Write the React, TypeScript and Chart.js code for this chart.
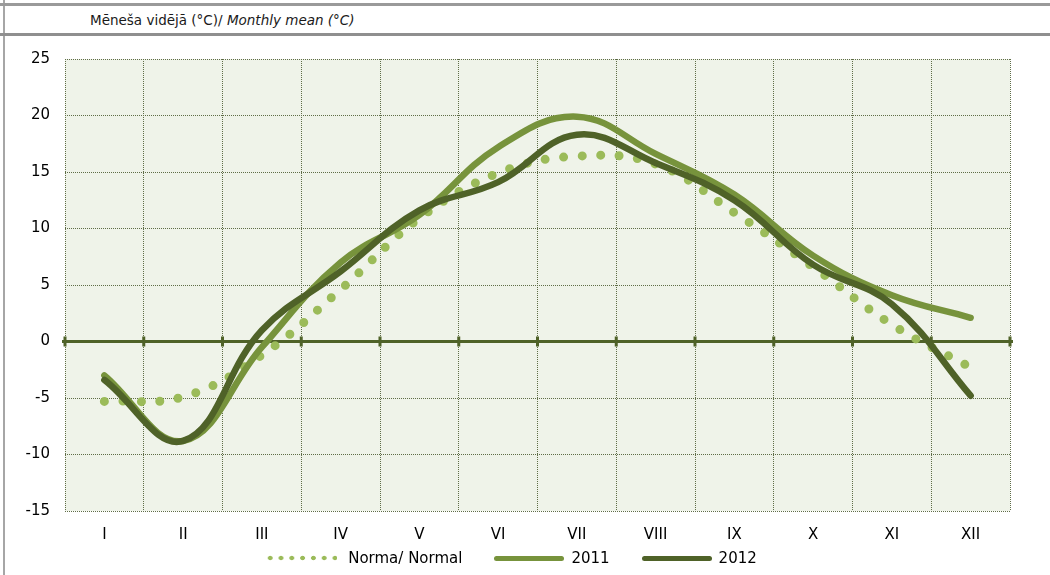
import React, { useEffect, useRef } from 'react';
import { Chart, registerables } from 'chart.js';

Chart.register(...registerables);

const categories = ['I', 'II', 'III', 'IV', 'V', 'VI', 'VII', 'VIII', 'IX', 'X', 'XI', 'XII'];
const normaValues = [-5.3, -4.9, -1.2, 4.6, 10.9, 14.9, 16.4, 15.7, 11.4, 6.6, 1.5, -2.3];
const values2011 = [-3.0, -8.8, -0.5, 7.0, 11.2, 17.2, 19.9, 16.6, 13.0, 7.6, 4.1, 2.1];
const values2012 = [-3.4, -8.8, 1.0, 6.2, 11.6, 14.1, 18.3, 15.8, 12.5, 6.8, 3.3, -4.8];
const seriesNames = ['Norma/ Normal', '2011', '2012'];
const yMin = -15;
const yMax = 25;
const yStep = 5;
const headerLatvian = 'Mēneša vidējā (°C)/ ';
const headerEnglish = 'Monthly mean (°C)';

const COLOR_NORMA = '#9bbb59';
const COLOR_2011 = '#77933c';
const COLOR_2012 = '#4f6228';
const COLOR_ZERO = '#4f6228';
const COLOR_GRID = '#5f6d47';
const COLOR_BG = '#eff3e9';
const FONT = 'DejaVu Sans';

const plotBackground = {
  id: 'plotBackground',
  beforeDraw(chart: any) {
    const { ctx, chartArea } = chart;
    if (!chartArea) return;
    ctx.save();
    ctx.fillStyle = COLOR_BG;
    ctx.fillRect(chartArea.left, chartArea.top, chartArea.right - chartArea.left, chartArea.bottom - chartArea.top);
    ctx.restore();
  },
};

const zeroAxis = {
  id: 'zeroAxis',
  beforeDatasetsDraw(chart: any) {
    const { ctx, chartArea, scales } = chart;
    const x = scales.x;
    const y = scales.y;
    const y0 = y.getPixelForValue(0);
    ctx.save();
    ctx.strokeStyle = COLOR_ZERO;
    ctx.lineWidth = 3;
    ctx.beginPath();
    ctx.moveTo(chartArea.left - 3, y0);
    ctx.lineTo(chartArea.right + 3, y0);
    ctx.stroke();
    ctx.fillStyle = COLOR_ZERO;
    for (let i = 0; i <= categories.length; i++) {
      const px = x.getPixelForValue(i - 0.5);
      ctx.fillRect(px - 1.5, y0 - 5, 3, 10);
    }
    ctx.restore();
  },
};

function LegendSample({ kind, color }: { kind: 'dots' | 'line'; color: string }) {
  if (kind === 'dots') {
    return (
      <div
        style={{
          width: 70,
          height: 6,
          backgroundImage: `radial-gradient(circle, ${color} 2px, rgba(0,0,0,0) 2.6px)`,
          backgroundSize: '10.8px 6px',
          backgroundRepeat: 'repeat-x',
          backgroundPosition: '-2.2px 0',
        }}
      />
    );
  }
  return <div style={{ width: 70, height: 5, borderRadius: 2.5, background: color }} />;
}

export default function App() {
  const canvasRef = useRef<HTMLCanvasElement | null>(null);

  useEffect(() => {
    document.body.style.margin = '0';
    document.body.style.overflow = 'hidden';
    const canvas = canvasRef.current;
    if (!canvas) return;
    const chart = new Chart(canvas, {
      type: 'line',
      data: {
        labels: categories,
        datasets: [
          {
            label: seriesNames[0],
            data: normaValues,
            borderColor: COLOR_NORMA,
            borderWidth: 9,
            borderDash: [0, 18.5],
            borderCapStyle: 'round',
            pointRadius: 0,
            pointHoverRadius: 0,
            tension: 0.4,
            fill: false,
            order: 3,
          },
          {
            label: seriesNames[1],
            data: values2011,
            borderColor: COLOR_2011,
            borderWidth: 6.5,
            borderCapStyle: 'round',
            borderJoinStyle: 'round',
            pointRadius: 0,
            pointHoverRadius: 0,
            tension: 0.4,
            fill: false,
            order: 2,
          },
          {
            label: seriesNames[2],
            data: values2012,
            borderColor: COLOR_2012,
            borderWidth: 6.5,
            borderCapStyle: 'round',
            borderJoinStyle: 'round',
            pointRadius: 0,
            pointHoverRadius: 0,
            tension: 0.4,
            fill: false,
            order: 1,
          },
        ],
      },
      options: {
        responsive: false,
        animation: false,
        events: [],
        layout: { padding: { left: 0, right: 40, top: 20, bottom: 0 } },
        scales: {
          x: {
            type: 'category',
            offset: true,
            grid: { offset: true, color: COLOR_GRID, lineWidth: 1, drawTicks: false },
            border: { display: false, dash: [1, 1] },
            ticks: { color: '#000', font: { family: FONT, size: 15 }, padding: 15, maxRotation: 0, autoSkip: false },
            afterFit(scale: any) {
              scale.height = 39;
            },
          },
          y: {
            min: yMin,
            max: yMax,
            ticks: { stepSize: yStep, color: '#000', font: { family: FONT, size: 15 }, padding: 15 },
            grid: { color: COLOR_GRID, lineWidth: 1, drawTicks: false },
            border: { display: false, dash: [1, 1] },
            afterFit(scale: any) {
              scale.width = 65;
            },
          },
        },
        plugins: {
          tooltip: { enabled: false },
          legend: { display: false },
        },
      } as any,
      plugins: [plotBackground, zeroAxis],
    });
    return () => chart.destroy();
  }, []);

  const legendItems = [
    { name: seriesNames[0], kind: 'dots' as const, color: COLOR_NORMA },
    { name: seriesNames[1], kind: 'line' as const, color: COLOR_2011 },
    { name: seriesNames[2], kind: 'line' as const, color: COLOR_2012 },
  ];

  return (
    <div style={{ position: 'absolute', left: 0, top: 0, width: 1050, height: 575, background: '#fff', overflow: 'hidden', fontFamily: FONT }}>
      <div style={{ position: 'absolute', left: 3, top: 0, width: 2, height: 575, background: '#a6a6a6' }} />
      <div style={{ position: 'absolute', left: 0, top: 3, width: 1050, height: 3, background: '#9a9a9a' }} />
      <div style={{ position: 'absolute', left: 90, top: 11, fontSize: 13.5, lineHeight: '18px', color: '#1a1a1a', whiteSpace: 'nowrap' }}>
        {headerLatvian}
        <i>{headerEnglish}</i>
      </div>
      <div style={{ position: 'absolute', left: 0, top: 33, width: 1050, height: 3, background: '#8f8f8f' }} />
      <canvas ref={canvasRef} width={1050} height={515} style={{ position: 'absolute', left: 0, top: 35, width: 1050, height: 515 }} />
      <div style={{ position: 'absolute', left: 0, top: 548, width: 1024, height: 20, display: 'flex', justifyContent: 'center', alignItems: 'center', fontSize: 15, color: '#000' }}>
        {legendItems.map((it, i) => (
          <div key={it.name} style={{ display: 'flex', alignItems: 'center', marginLeft: i === 0 ? 0 : 32 }}>
            <LegendSample kind={it.kind} color={it.color} />
            <span style={{ marginLeft: it.kind === 'dots' ? 11 : 7, lineHeight: '20px', whiteSpace: 'nowrap' }}>{it.name}</span>
          </div>
        ))}
      </div>
    </div>
  );
}
